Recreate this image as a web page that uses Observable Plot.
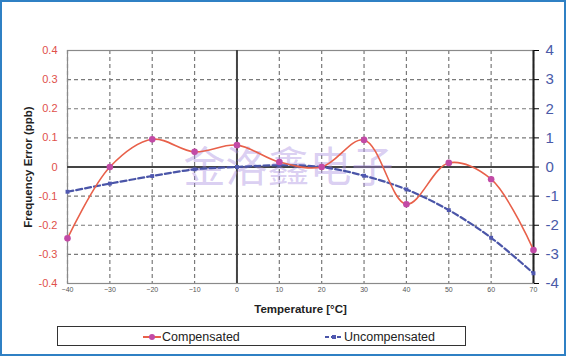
<!DOCTYPE html>
<html><head><meta charset="utf-8">
<script src="https://cdn.jsdelivr.net/npm/d3@7"></script>
<script src="https://cdn.jsdelivr.net/npm/@observablehq/plot@0.6"></script>
<style>
html,body{margin:0;padding:0;background:#fff;}
#wrap{position:relative;width:566px;height:356px;overflow:hidden;font-family:"Liberation Sans",Arial,sans-serif;background:#fff;}
#border{position:absolute;left:0;top:0;width:566px;height:356px;box-sizing:border-box;border:2px solid #2f80c4;pointer-events:none;}
#chart{position:absolute;left:0;top:0;}
#legend{position:absolute;left:57px;top:326px;width:409px;height:20px;box-sizing:border-box;border:1px solid #333;font-size:12.5px;color:#222;}
#legend .item{position:absolute;top:2px;display:flex;align-items:center;height:15px;}
#legend svg{display:block;}
</style></head>
<body>
<div id="wrap">
  <div id="chart"></div>
  <div id="legend">
    <div class="item" style="left:84px"><svg width="20" height="10"><line x1="1" y1="5" x2="19" y2="5" stroke="#e8604a" stroke-width="2"/><circle cx="10" cy="5" r="3" fill="#c24aa6"/></svg><span>Compensated</span></div>
    <div class="item" style="left:266px"><svg width="20" height="10"><line x1="1" y1="5" x2="19" y2="5" stroke="#4a55a8" stroke-width="2" stroke-dasharray="4,2"/><rect x="8" y="3" width="4" height="4" fill="#5058b0"/></svg><span>Uncompensated</span></div>
  </div>
  <div id="border"></div>
</div>
<script>
const temps = [-40, -30, -20, -10, 0, 10, 20, 30, 40, 50, 60, 70];
const compensated = [-0.245, 0.0, 0.095, 0.052, 0.075, 0.017, 0.0, 0.093, -0.128, 0.014, -0.042, -0.285];
const uncompensated = [-0.085, -0.057, -0.031, -0.008, 0.0, 0.006, 0.0, -0.03, -0.077, -0.148, -0.243, -0.365];
const yTicks = [0.4, 0.3, 0.2, 0.1, 0, -0.1, -0.2, -0.3, -0.4];
const xTicks = [-40, -30, -20, -10, 0, 10, 20, 30, 40, 50, 60, 70];
const watermark = "金洛鑫电子";
const xLabel = "Temperature [°C]";
const yLabel = "Frequency Error (ppb)";

const comp = temps.map((t, i) => ({t, v: compensated[i]}));
const unc = temps.map((t, i) => ({t, v: uncompensated[i]}));

const fmtL = d => Math.abs(d) < 1e-9 ? "0" : d.toFixed(1);
const fmtR = d => String(Math.round(d * 10));

const chart = Plot.plot({
  width: 566, height: 320,
  marginLeft: 67, marginRight: 33, marginTop: 50, marginBottom: 37,
  style: {fontFamily: "Liberation Sans, Arial, sans-serif", background: "transparent"},
  x: {domain: [-40, 70]},
  y: {domain: [-0.4, 0.4]},
  marks: [
    Plot.gridX(xTicks, {stroke: "#7a7a7a", strokeOpacity: 1, strokeDasharray: "4,3", strokeWidth: 1.2}),
    Plot.gridY(yTicks, {stroke: "#7a7a7a", strokeOpacity: 1, strokeDasharray: "4,3", strokeWidth: 1.2}),
    Plot.frame({stroke: "#8a8a8a", strokeWidth: 1.2}),
    Plot.ruleY([0], {stroke: "#444", strokeWidth: 2}),
    Plot.ruleX([0], {stroke: "#444", strokeWidth: 2}),
    Plot.ruleX([70], {stroke: "#222", strokeWidth: 2}),
    Plot.text([watermark], {frameAnchor: "middle", dx: -12, dy: 2, text: d => d, fontSize: 42, fill: "#a88ce0", fillOpacity: 0.42, fontFamily: "Noto Sans CJK SC", letterSpacing: 9}),
    Plot.axisY(yTicks, {anchor: "left", tickSize: 0, tickPadding: 10, tickFormat: fmtL, fill: "#e0504a", fontSize: 11, label: null}),
    Plot.axisY(yTicks, {anchor: "right", tickSize: 5, tickPadding: 7, tickFormat: fmtR, fill: "#4a5aa8", fontSize: 15, label: null}),
    Plot.axisX(xTicks, {anchor: "bottom", tickSize: 0, tickPadding: 4, fontSize: 7, fill: "#555", label: null}),
    Plot.text([xLabel], {frameAnchor: "bottom", dy: 29, text: d => d, fontSize: 11.5, fontWeight: "bold", fill: "#222"}),
    Plot.text([yLabel], {frameAnchor: "left", textAnchor: "middle", dx: -39, rotate: -90, text: d => d, fontSize: 11.5, fontWeight: "bold", fill: "#222"}),
    Plot.line(unc, {x: "t", y: "v", curve: "catmull-rom", stroke: "#4a55a8", strokeWidth: 2.2, strokeDasharray: "6,3"}),
    Plot.dot(unc, {x: "t", y: "v", symbol: "square", r: 2.2, fill: "#5058b0"}),
    Plot.line(comp, {x: "t", y: "v", curve: "catmull-rom", stroke: "#e8604a", strokeWidth: 1.6}),
    Plot.dot(comp, {x: "t", y: "v", r: 3.3, fill: "#c24aa6"})
  ]
});
document.getElementById("chart").appendChild(chart);
</script>
</body></html>
